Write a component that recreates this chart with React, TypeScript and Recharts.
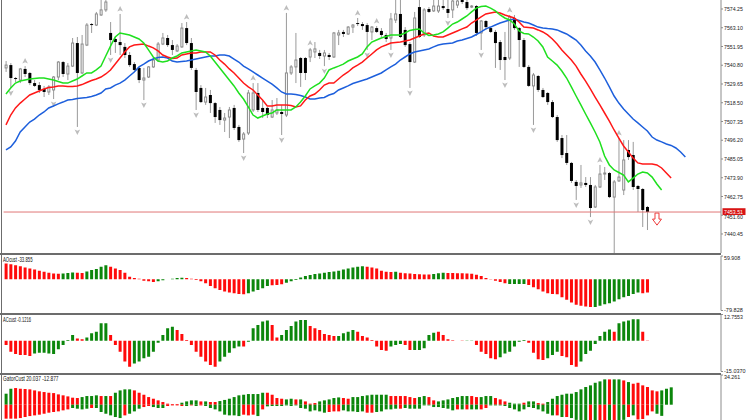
import React from "react";
import { Bar, Cell, ComposedChart, Line, ReferenceLine, XAxis, YAxis } from "recharts";

// price bars, oldest first (136 bars)
const opens = [
  7539.2, 7540.9, 7533.2, 7532.0, 7538.6, 7536.2, 7530.2, 7529.0, 7526.7, 7524.9,
  7526.1, 7533.8, 7542.7, 7535.6, 7540.3, 7554.0, 7536.2, 7552.8, 7565.3, 7564.7,
  7570.7, 7573.7, 7560.0, 7556.4, 7554.6, 7551.7, 7546.9, 7541.5, 7539.2, 7532.0,
  7533.8, 7539.8, 7543.9, 7553.4, 7557.0, 7552.8, 7549.3, 7551.7, 7562.9, 7554.0,
  7538.0, 7527.3, 7518.9, 7523.1, 7518.3, 7514.2, 7508.2, 7510.0, 7515.4, 7504.1,
  7496.9, 7500.5, 7514.2, 7524.3, 7515.4, 7515.4, 7510.0, 7512.4, 7513.0, 7511.2,
  7536.2, 7539.8, 7545.1, 7545.1, 7545.7, 7548.7, 7548.1, 7546.3, 7546.9, 7545.7,
  7558.8, 7560.6, 7559.4, 7563.5, 7565.9, 7565.3, 7564.7, 7560.6, 7562.9, 7561.2,
  7558.8, 7557.0, 7567.7, 7571.3, 7561.8, 7553.4, 7542.7, 7575.4, 7558.8, 7574.25,
  7573.1, 7573.1, 7576.0, 7574.25, 7573.7, 7576.6, 7579.6, 7578.4, 7575.4, 7576.0,
  7560.0, 7567.1, 7562.9, 7560.6, 7554.6, 7545.7, 7545.1, 7568.9, 7562.9, 7555.8,
  7539.8, 7528.5, 7534.4, 7526.1, 7524.3, 7518.9, 7510.0, 7497.5, 7488.6, 7482.7,
  7471.4, 7469.6, 7470.8, 7469.6, 7456.5, 7468.4, 7476.1, 7476.7, 7462.4, 7472.0,
  7466.6, 7490.4, 7487.4, 7469.0, 7467.2, 7456.5,
];
const closes = [
  7540.9, 7533.2, 7532.6, 7538.6, 7535.6, 7530.2, 7528.5, 7526.1, 7524.9, 7527.9,
  7533.8, 7542.7, 7535.6, 7540.3, 7554.0, 7536.2, 7553.4, 7564.7, 7564.7, 7571.3,
  7573.7, 7578.4, 7555.8, 7554.6, 7552.8, 7546.9, 7540.9, 7538.0, 7532.0, 7533.2,
  7539.8, 7543.9, 7553.4, 7557.0, 7552.8, 7549.9, 7552.2, 7562.9, 7554.0, 7539.2,
  7524.9, 7518.9, 7521.9, 7518.3, 7510.0, 7508.2, 7509.4, 7514.2, 7503.5, 7496.3,
  7499.9, 7524.3, 7524.3, 7514.2, 7513.0, 7511.2, 7514.2, 7514.2, 7511.8, 7536.2,
  7539.8, 7543.9, 7536.2, 7536.2, 7549.9, 7550.5, 7546.3, 7548.1, 7545.7, 7560.0,
  7560.0, 7559.4, 7563.5, 7564.7, 7565.3, 7564.1, 7560.6, 7563.5, 7560.6, 7558.8,
  7556.4, 7568.3, 7571.3, 7557.6, 7552.8, 7542.7, 7568.9, 7557.6, 7573.7, 7572.5,
  7576.0, 7576.0, 7574.8, 7571.9, 7579.0, 7579.0, 7578.4, 7574.8, 7576.0, 7560.0,
  7567.1, 7563.5, 7560.6, 7554.0, 7543.9, 7543.9, 7569.5, 7562.9, 7555.8, 7539.8,
  7528.5, 7535.0, 7526.1, 7521.9, 7518.9, 7510.0, 7496.3, 7487.4, 7482.7, 7472.0,
  7469.0, 7470.8, 7469.6, 7455.9, 7468.4, 7476.1, 7476.7, 7462.4, 7471.4, 7474.3,
  7484.45, 7486.2, 7468.4, 7467.2, 7454.7, 7453.51,
];
const highs = [
  7543.3, 7542.1, 7533.8, 7539.2, 7540.3, 7536.8, 7532.0, 7530.8, 7528.5, 7529.0,
  7534.4, 7543.3, 7543.3, 7542.1, 7557.0, 7557.6, 7558.8, 7565.9, 7565.9, 7572.5,
  7580.5, 7581.0, 7566.5, 7557.6, 7571.3, 7554.0, 7548.7, 7542.7, 7539.8, 7539.2,
  7540.3, 7545.7, 7554.6, 7560.0, 7558.8, 7555.8, 7553.4, 7565.9, 7566.5, 7557.0,
  7539.2, 7529.0, 7527.3, 7526.1, 7518.9, 7516.0, 7512.4, 7516.0, 7517.2, 7505.3,
  7501.1, 7526.1, 7530.2, 7530.2, 7520.1, 7516.0, 7520.1, 7521.3, 7517.2, 7571.9,
  7540.9, 7560.0, 7545.7, 7545.7, 7551.1, 7554.6, 7549.9, 7549.9, 7548.1, 7560.6,
  7561.8, 7561.8, 7564.1, 7565.3, 7568.9, 7566.5, 7565.9, 7564.1, 7564.1, 7562.9,
  7560.0, 7571.9, 7580.5, 7580.5, 7563.5, 7554.6, 7572.5, 7580.5, 7574.8, 7575.4,
  7580.5, 7580.5, 7580.5, 7580.5, 7580.5, 7581.0, 7581.0, 7581.0, 7576.6, 7576.6,
  7567.7, 7567.7, 7563.5, 7561.8, 7555.8, 7560.6, 7570.7, 7570.7, 7563.5, 7557.0,
  7540.9, 7536.2, 7535.0, 7527.3, 7524.9, 7520.1, 7511.2, 7499.3, 7499.3, 7483.3,
  7472.55, 7481.5, 7474.3, 7474.3, 7469.6, 7481.5, 7480.3, 7477.3, 7472.55, 7497.5,
  7496.3, 7496.3, 7495.2, 7469.6, 7467.8, 7457.1,
];
const lows = [
  7536.8, 7527.3, 7530.8, 7530.2, 7533.8, 7529.0, 7527.9, 7524.3, 7521.9, 7523.1,
  7520.7, 7532.0, 7533.8, 7532.0, 7539.8, 7504.1, 7535.6, 7552.2, 7560.0, 7564.1,
  7570.1, 7572.5, 7546.9, 7548.1, 7546.9, 7545.1, 7539.8, 7536.8, 7530.2, 7520.1,
  7533.2, 7539.2, 7542.7, 7552.8, 7551.7, 7546.9, 7548.7, 7551.1, 7552.8, 7538.0,
  7514.2, 7518.3, 7517.2, 7512.4, 7506.5, 7505.3, 7501.1, 7497.5, 7502.3, 7495.2,
  7488.6, 7499.3, 7513.0, 7513.0, 7509.4, 7509.4, 7509.4, 7511.2, 7499.3, 7510.0,
  7535.0, 7530.2, 7527.9, 7532.0, 7542.7, 7545.1, 7544.5, 7540.3, 7543.9, 7545.1,
  7552.8, 7557.6, 7558.8, 7560.0, 7564.1, 7561.8, 7549.9, 7555.8, 7560.0, 7557.6,
  7554.6, 7549.9, 7565.9, 7557.0, 7551.7, 7527.3, 7542.1, 7557.0, 7557.6, 7571.9,
  7572.5, 7571.9, 7573.7, 7568.9, 7568.9, 7574.8, 7577.2, 7573.7, 7574.8, 7558.2,
  7549.9, 7561.8, 7560.0, 7539.2, 7538.0, 7532.0, 7543.9, 7561.8, 7539.8, 7539.2,
  7527.9, 7505.3, 7524.9, 7521.3, 7517.2, 7509.4, 7495.2, 7485.6, 7481.5, 7470.8,
  7460.7, 7467.8, 7468.4, 7450.5, 7455.9, 7467.8, 7472.55, 7461.8, 7429.1, 7471.4,
  7463.6, 7484.45, 7466.6, 7453.5, 7444.6, 7442.8,
];

// alligator lines, already shifted forward (jaw 8, teeth 5, lips 3 bars)
const jaw = [
  7490.4, 7492.2, 7495.7, 7501.1, 7504.1, 7507.0, 7508.8, 7511.2, 7513.0, 7515.4,
  7516.6, 7517.8, 7518.9, 7520.1, 7520.4, 7521.0, 7521.3, 7521.6, 7522.2, 7523.1,
  7524.3, 7526.7, 7527.3, 7529.0, 7530.2, 7532.0, 7534.4, 7536.8, 7539.8, 7541.5,
  7543.3, 7544.5, 7545.4, 7545.7, 7545.1, 7543.3, 7542.7, 7543.0, 7543.3, 7543.9,
  7544.5, 7545.1, 7545.7, 7546.3, 7546.3, 7546.9, 7546.9, 7546.3, 7544.5, 7542.7,
  7540.3, 7538.6, 7536.8, 7535.0, 7533.2, 7531.4, 7529.6, 7527.3, 7524.9, 7523.7,
  7523.7, 7523.4, 7522.8, 7521.9, 7520.7, 7520.7, 7521.3, 7521.6, 7523.1, 7524.0,
  7526.1, 7527.3, 7528.5, 7529.9, 7530.8, 7531.7, 7532.6, 7533.8, 7535.0, 7536.2,
  7538.0, 7539.8, 7541.5, 7543.9, 7545.7, 7547.5, 7548.7, 7549.3, 7549.9, 7550.5,
  7551.7, 7552.8, 7553.4, 7553.7, 7554.0, 7555.2, 7555.8, 7556.7, 7557.6, 7559.1,
  7560.6, 7562.4, 7563.5, 7564.7, 7565.9, 7566.8, 7567.7, 7568.3, 7567.4, 7566.5,
  7565.9, 7564.7, 7563.5, 7562.9, 7562.6, 7562.4, 7561.8, 7560.6, 7559.4, 7557.6,
  7555.8, 7552.8, 7549.3, 7546.3, 7542.7, 7538.0, 7533.2, 7527.9, 7522.5, 7518.3,
  7514.8, 7511.8, 7508.8, 7506.5, 7504.1, 7501.7, 7498.1, 7496.3, 7495.2, 7494.0,
  7493.1, 7491.6, 7489.2, 7486.2,
];
const teeth = [
  7505.3, 7511.2, 7515.4, 7518.3, 7520.7, 7523.1, 7524.3, 7525.5, 7526.7, 7527.6,
  7527.9, 7528.5, 7528.5, 7528.2, 7528.2, 7528.5, 7529.3, 7530.5, 7531.7, 7532.6,
  7533.8, 7535.6, 7538.0, 7541.5, 7545.1, 7548.7, 7551.7, 7552.8, 7553.1, 7553.4,
  7552.2, 7551.1, 7549.3, 7546.9, 7545.7, 7544.8, 7545.1, 7546.9, 7547.5, 7548.1,
  7548.1, 7548.7, 7548.7, 7548.7, 7546.9, 7543.9, 7541.5, 7538.6, 7536.2, 7533.2,
  7530.2, 7527.9, 7526.1, 7523.1, 7520.1, 7516.6, 7516.6, 7517.2, 7517.2, 7517.2,
  7516.9, 7516.0, 7516.6, 7520.1, 7522.5, 7523.7, 7526.1, 7529.0, 7530.2, 7530.2,
  7532.6, 7535.0, 7536.8, 7539.2, 7540.9, 7542.7, 7545.1, 7547.5, 7549.9, 7551.7,
  7552.8, 7554.0, 7554.3, 7554.6, 7555.2, 7555.8, 7557.0, 7558.2, 7559.4, 7560.0,
  7558.2, 7557.6, 7557.6, 7558.8, 7560.0, 7561.2, 7562.4, 7563.5, 7565.9, 7567.7,
  7569.5, 7571.3, 7571.9, 7572.5, 7571.9, 7570.7, 7569.8, 7568.9, 7566.5, 7563.5,
  7563.2, 7562.9, 7561.8, 7560.6, 7558.8, 7556.4, 7553.4, 7549.9, 7546.9, 7543.9,
  7540.3, 7535.6, 7531.4, 7526.7, 7521.9, 7517.2, 7512.4, 7507.6, 7502.3, 7497.5,
  7492.8, 7489.2, 7485.6, 7482.7, 7482.1, 7482.1, 7482.1, 7481.5, 7479.7, 7476.7,
  7473.7,
];
const lips = [
  7523.7, 7527.3, 7530.2, 7531.4, 7532.0, 7532.6, 7532.9, 7533.2, 7533.2, 7532.6,
  7532.0, 7531.1, 7530.2, 7530.2, 7531.4, 7532.6, 7534.4, 7536.2, 7536.2, 7538.0,
  7540.3, 7546.3, 7552.2, 7557.6, 7560.0, 7559.4, 7558.8, 7557.6, 7556.4, 7554.0,
  7549.9, 7545.7, 7543.3, 7542.7, 7543.3, 7545.1, 7546.3, 7548.1, 7548.7, 7549.3,
  7549.9, 7549.3, 7548.7, 7546.3, 7542.7, 7539.2, 7535.6, 7532.0, 7528.5, 7524.3,
  7520.7, 7516.0, 7511.2, 7509.4, 7510.6, 7511.8, 7512.4, 7514.2, 7514.2, 7514.2,
  7514.2, 7516.0, 7518.9, 7522.5, 7526.7, 7528.5, 7530.2, 7533.2, 7538.0, 7539.2,
  7540.3, 7541.5, 7543.3, 7544.5, 7545.7, 7547.5, 7551.7, 7554.6, 7555.8, 7557.0,
  7557.9, 7558.8, 7558.8, 7558.8, 7560.0, 7561.5, 7562.1, 7562.4, 7560.0, 7558.5,
  7558.8, 7559.4, 7560.6, 7562.9, 7565.3, 7566.5, 7568.3, 7570.1, 7572.5, 7574.8,
  7575.7, 7576.0, 7574.8, 7573.1, 7570.7, 7568.9, 7567.7, 7565.3, 7561.2, 7559.7,
  7559.4, 7557.6, 7555.2, 7551.7, 7545.7, 7543.3, 7540.9, 7537.4, 7533.2, 7527.9,
  7522.5, 7517.2, 7511.8, 7506.5, 7501.1, 7495.2, 7486.8, 7481.5, 7478.5, 7477.0,
  7475.5, 7471.4, 7473.7, 7476.1, 7477.3, 7476.7, 7474.3, 7470.2, 7466.6,
];

const fractalUp = [4, 24, 38, 52, 59, 64, 74, 78, 87, 106, 125, 129];
const fractalDown = [1, 10, 15, 22, 29, 40, 50, 58, 67, 76, 81, 85, 93, 100, 105, 111, 120, 123, 128];

const priceTicks = [
  7574.25, 7563.1, 7551.95, 7540.8, 7529.65, 7518.5, 7507.35,
  7496.2, 7485.05, 7473.9, 7462.75, 7451.6, 7440.45,
];
const lastPrice = 7453.51;
const signalBar = 137;
const signalRange = [7445.7, 7452.9];

const aoValues = [
  40.7, 39.0, 36.4, 33.9, 30.5, 28.0, 25.4, 22.0, 19.5, 16.9,
  15.2, 14.4, 15.2, 16.1, 17.5, 17.0, 16.6, 20.3, 23.7, 26.3,
  32.2, 36.4, 32.2, 28.0, 23.7, 16.9, 6.8, 3.4, 1.7, -3.4,
  -5.1, -6.8, -5.1, -2.5, 0.3, 1.7, 3.4, 4.2, 3.4, 1.7,
  -1.7, -5.1, -10.2, -16.9, -22.9, -27.1, -31.3, -33.9, -35.6, -37.3,
  -38.1, -35.6, -31.3, -27.1, -22.9, -16.9, -15.2, -14.4, -12.7, -8.5,
  -5.1, -1.7, 5.1, 8.5, 11.0, 13.6, 15.2, 16.9, 18.6, 20.3,
  22.0, 25.4, 28.0, 30.5, 32.2, 33.9, 32.2, 30.5, 28.0, 22.0,
  19.5, 19.0, 19.5, 16.9, 15.7, 14.8, 14.0, 13.2, 12.7, 12.3,
  14.0, 15.7, 17.0, 16.5, 16.2, 15.8, 15.4, 15.0, 14.6, 11.9,
  8.5, 3.4, 0.8, -3.4, -6.8, -10.2, -11.9, -11.9, -11.9, -11.9,
  -14.4, -20.3, -25.4, -31.3, -35.6, -37.3, -38.1, -45.7, -52.5, -59.3,
  -65.2, -67.8, -69.5, -71.1, -71.1, -67.8, -63.5, -61.0, -56.7, -50.8,
  -45.7, -42.4, -37.3, -33.9, -35.6, -33.855,
];
const aoColors = [
  "RRRRRRRRRR", "RRGGGRRGGG", "GGRRRRRRRR", "RRGGGGGGRR", "RRRRRRRRRR",
  "RGGGGGRRRG", "GGGGGGGGGG", "GGGGGGRRRR", "RRGRRRRRRR", "GGGRRRRRRR",
  "RRRRRRGGGG", "RRRRRRRRRR", "RRRRGGGGGG", "GGGGRR",
].join("");

const acValues = [
  -2.1, -5.4, -6.5, -7.0, -7.0, -7.5, -6.2, -5.9, -5.9, -6.2,
  -6.5, -4.2, -2.1, 0.3, 2.8, 1.1, 0.7, 1.6, 3.6, 4.4,
  8.5, 8.5, 2.8, -2.1, -5.4, -10.2, -12.7, -11.1, -10.2, -8.6,
  -7.8, -5.4, -1.0, 2.8, 6.0, 6.8, 5.2, 3.3, 0.3, -2.1,
  -5.4, -7.8, -10.2, -11.9, -12.7, -10.2, -7.8, -5.9, -3.7, -2.9,
  -2.9, -0.5, 6.0, 7.6, 9.3, 9.8, 7.6, 1.6, 2.8, 5.2,
  7.2, 9.3, 10.1, 10.1, 7.2, 6.0, 5.2, 3.3, 2.8, 2.3,
  2.3, 3.6, 4.4, 5.2, 4.4, 2.3, 1.6, 0.3, -2.9, -4.6,
  -4.9, -2.9, -2.1, -1.6, -2.1, -4.6, -4.6, -4.6, -3.7, 2.8,
  3.9, 4.4, 2.8, 0.7, 0.2, -0.1, -0.2, 0.1, 0.1, -2.1,
  -5.4, -6.5, -8.6, -9.1, -8.1, -6.2, -5.4, -2.9, -0.5, 0.3,
  -1.0, -5.9, -9.1, -9.4, -8.6, -7.0, -5.4, -7.5, -8.1, -11.9,
  -12.7, -10.2, -6.5, -4.9, -1.6, 2.3, 4.4, 5.5, 4.4, 8.5,
  9.3, 9.8, 10.4, 10.4, 4.4, -0.1216,
];
const acColors = [
  "RRRRRRGGGG", "GGGGGRRGGG", "GGRRRRRGGG", "GGGGGGRRRR", "RRRRRGGGGG",
  "RGGGGGRRGG", "GGGGRRRRRR", "GGGGRRRRRR", "RGGGRRGGGG", "GRRRRRRGGR",
  "RRRRGGGGGG", "RRRRGGGRRR", "RGGGGGGGRG", "GGGGRR",
].join("");

const gatorUpper = [
  12.7, 18.4, 19.2, 18.4, 18.1, 17.7, 16.5, 15.4, 14.6, 13.8,
  13.4, 11.9, 10.8, 9.6, 8.1, 7.7, 8.8, 10.0, 10.0, 10.8,
  10.0, 10.0, 10.0, 13.8, 16.5, 17.7, 17.7, 16.5, 13.8, 11.5,
  8.8, 6.9, 5.0, 3.1, 1.2, 0.8, 0.8, 2.3, 3.8, 5.0,
  5.0, 3.8, 3.8, 3.1, 3.1, 4.2, 5.5, 6.9, 8.8, 10.8,
  11.5, 12.3, 12.3, 12.3, 13.8, 13.8, 11.5, 7.7, 6.9, 6.1,
  6.9, 6.1, 6.1, 3.8, 1.2, 1.9, 3.8, 5.0, 6.1, 7.7,
  8.4, 7.7, 6.9, 8.8, 8.8, 10.0, 10.8, 11.5, 11.5, 11.5,
  11.5, 10.0, 10.0, 10.0, 10.0, 8.8, 7.7, 8.8, 10.0, 8.8,
  5.0, 3.8, 5.0, 6.1, 7.7, 8.8, 10.0, 10.0, 10.0, 8.8,
  8.8, 10.0, 10.0, 7.7, 6.1, 3.8, 2.3, 1.2, 1.2, 2.3,
  3.8, 3.8, 1.9, 1.2, 3.1, 6.9, 10.0, 11.5, 12.7, 12.7,
  14.6, 17.7, 20.4, 22.3, 25.3, 26.9, 29.2, 29.2, 29.2, 29.2,
  28.0, 26.1, 24.2, 25.3, 22.3, 20.4, 16.5, 15.4, 16.5, 18.4,
  20.037,
];
const gatorUpperColors = [
  "GGRRRRRRRR", "RRRRRRGGGG", "RGRGGGGRRR", "RRRRRRRGGG", "GRGRRGGGGG",
  "GGGGGRRRRG", "GRGRRRGGGG", "GRRGGGGGGG", "GRRRRRRGGR", "RGGGGGGGRR",
  "GGGRRRGGGR", "GGRRGGGGGG", "GGGGGGGRGG", "RGRRRRRRGG", "G",
].join("");
const gatorLower = [
  -16.1, -16.1, -16.1, -15.4, -14.2, -13.1, -12.3, -11.5, -10.4, -9.2,
  -8.4, -7.7, -6.5, -5.4, -3.8, -4.6, -5.4, -4.6, -3.8, -3.8,
  -8.4, -10.4, -12.3, -14.2, -15.4, -12.3, -10.4, -7.7, -4.6, -2.7,
  -1.5, -2.7, -3.8, -3.8, -1.5, -0.8, -0.8, -1.5, -1.5, -0.8,
  -1.5, -0.8, -1.5, -3.8, -5.4, -7.7, -11.5, -12.3, -12.3, -13.1,
  -11.5, -12.3, -11.5, -13.1, -5.4, -1.9, -1.5, -1.5, -1.5, -0.8,
  -1.5, -0.8, -3.8, -4.6, -7.7, -6.5, -7.7, -9.2, -8.4, -7.7,
  -7.7, -6.5, -7.7, -7.7, -8.4, -7.7, -9.2, -9.2, -8.4, -7.7,
  -5.4, -5.4, -4.6, -4.6, -3.8, -4.6, -4.6, -4.6, -0.8, -0.8,
  -2.7, -2.7, -3.8, -4.6, -6.5, -5.4, -5.4, -5.4, -5.4, -5.4,
  -5.4, -3.8, -0.8, -0.8, -0.8, -1.5, -3.8, -5.4, -7.7, -5.4,
  -2.7, -3.8, -5.4, -7.7, -10.4, -12.3, -12.3, -14.2, -14.2, -15.4,
  -17.5, -18.5, -19.0, -19.0, -19.0, -19.0, -19.0, -19.0, -18.5, -18.0,
  -17.5, -14.2, -12.3, -17.0, -16.5, -12.3, -7.7, -10.4, -12.877,
];
const gatorLowerColors = [
  "RRRRRRRRRR", "RRRRGGGGRG", "GGGGGRGGGR", "RGGGRRRRGR", "GRGGGGGGGG",
  "RRRGRGGGGG", "GGGGGGGGRR", "RGGGGGRRGG", "GGGRGGGGGG", "GGGGGRGRGG",
  "RRGGGGGGGG", "GGGGGGRGRG", "GGGRGRRGRG", "GRGRRRRGG",
].join("");

const SLOTS = 151;
const WIDTH = 752;
const LEFT = 3.6;
const AXIS_W = 31;
const GREEN = "#0b860b";
const RED = "#ff0a0a";
const FONT = "'Liberation Sans', Arial, sans-serif";

const pick = (c: string) => (c === "G" ? GREEN : RED);

const rows = Array.from({ length: SLOTS }, (_, i) => {
  const isCandle = i < opens.length;
  const hasGator = i < gatorUpper.length;
  return {
    i,
    open: isCandle ? opens[i] : null,
    close: isCandle ? closes[i] : null,
    high: isCandle ? highs[i] : null,
    low: isCandle ? lows[i] : null,
    range: isCandle ? [lows[i], highs[i]] : i === signalBar ? signalRange : null,
    signal: i === signalBar,
    fUp: fractalUp.includes(i),
    fDown: fractalDown.includes(i),
    jaw: i < jaw.length ? jaw[i] : null,
    teeth: i < teeth.length ? teeth[i] : null,
    lips: i < lips.length ? lips[i] : null,
    ao: i < aoValues.length ? aoValues[i] : null,
    aoColor: pick(aoColors[i]),
    ac: i < acValues.length ? acValues[i] : null,
    acColor: pick(acColors[i]),
    gator: hasGator ? [i < gatorLower.length ? gatorLower[i] : 0, gatorUpper[i]] : null,
    gUpColor: pick(gatorUpperColors[i]),
    gLoColor: pick(gatorLowerColors[i]),
  };
});

function CandleShape(props: any) {
  const { x, y, width, height, payload } = props;
  if (!payload || payload.range == null || !Number.isFinite(y)) return <g />;
  const cx = x + width / 2;
  const top = Math.min(y, y + height);
  const h = Math.abs(height);

  if (payload.signal) {
    const mid = top + h * 0.5;
    const d = `M${cx - 2},${top} L${cx + 2},${top} L${cx + 2},${mid} L${cx + 4.5},${mid} L${cx},${top + h} L${cx - 4.5},${mid} L${cx - 2},${mid} Z`;
    return <path d={d} fill="#ffffff" stroke="#ee3b3b" strokeWidth={1} />;
  }

  const ppu = h / (payload.high - payload.low);
  const yOf = (v: number) => top + (payload.high - v) * ppu;
  const bodyTop = yOf(Math.max(payload.open, payload.close));
  const bodyBot = yOf(Math.min(payload.open, payload.close));
  const bull = payload.close >= payload.open;
  const bodyH = Math.max(bodyBot - bodyTop, 1);

  return (
    <g>
      <line x1={cx} x2={cx} y1={top} y2={top + h} stroke="#9a9a9a" strokeWidth={1} />
      {bull ? (
        <rect x={cx - 1} y={bodyTop} width={2} height={bodyH} fill="#ffffff" stroke="#8a8a8a" strokeWidth={1} />
      ) : (
        <rect x={cx - 1.5} y={bodyTop} width={3} height={bodyH} fill="#000000" />
      )}
      {payload.fUp && (
        <path
          d={`M${cx},${top - 8} L${cx + 2.8},${top - 2.5} L${cx},${top - 3.8} L${cx - 2.8},${top - 2.5} Z`}
          fill="#bdbdbd"
        />
      )}
      {payload.fDown && (
        <path
          d={`M${cx},${top + h + 8} L${cx + 2.8},${top + h + 2.5} L${cx},${top + h + 3.8} L${cx - 2.8},${top + h + 2.5} Z`}
          fill="#bdbdbd"
        />
      )}
    </g>
  );
}

function GatorShape(props: any) {
  const { x, y, width, height, payload } = props;
  if (!payload || payload.gator == null || !Number.isFinite(y)) return <g />;
  const [lo, up] = payload.gator;
  const top = Math.min(y, y + height);
  const h = Math.abs(height);
  const ppu = h / (up - lo);
  const zeroY = top + up * ppu;
  return (
    <g>
      {up > 0 && <rect x={x} y={top} width={width} height={zeroY - top} fill={payload.gUpColor} />}
      {lo < 0 && <rect x={x} y={zeroY} width={width} height={top + h - zeroY} fill={payload.gLoColor} />}
    </g>
  );
}

function AxisText({ x, y, label, dy }: { x: number; y: number; label: string; dy: number }) {
  return (
    <text
      x={x}
      y={y + dy}
      fontSize={6}
      fontFamily={FONT}
      fill="#222"
      textLength={label.length * 2.7}
      lengthAdjust="spacingAndGlyphs"
    >
      {label}
    </text>
  );
}

function PriceTick(props: any) {
  const { x, y, payload } = props;
  const v = Number(payload.value);
  // the tick right under the current-price tag sits a touch lower, as in the terminal
  const dy = Math.abs(v - lastPrice) < 3 ? 3.4 : 2.2;
  return <AxisText x={x - 1} y={y} dy={dy} label={v.toFixed(2)} />;
}

function makeSubTick(decimals: number) {
  return function SubTick(props: any) {
    const { x, y, payload } = props;
    const v = Number(payload.value);
    return <AxisText x={x - 1} y={y} dy={v > 0 ? 4.2 : 1} label={v.toFixed(decimals)} />;
  };
}

function PriceTag(props: any) {
  const vb = props.viewBox;
  if (!vb) return null;
  const bx = vb.x + vb.width + 1.5;
  return (
    <g>
      <rect x={bx} y={vb.y - 3.8} width={23} height={6.8} fill="#d81414" />
      <text
        x={bx + 1.5}
        y={vb.y + 1.7}
        fontSize={5.8}
        fontFamily={FONT}
        fill="#ffffff"
        textLength={19}
        lengthAdjust="spacingAndGlyphs"
      >
        {lastPrice.toFixed(2)}
      </text>
    </g>
  );
}

const axisStroke = { stroke: "#8c8c8c", strokeWidth: 1 };

function SubPanel({ top, height, margin, domain, ticks, decimals, children }: any) {
  return (
    <div style={{ position: "absolute", left: 0, top }}>
      <ComposedChart width={WIDTH} height={height} data={rows} margin={{ left: LEFT, right: 0, ...margin }}>
        <XAxis dataKey="i" hide />
        <YAxis
          orientation="right"
          width={AXIS_W}
          domain={domain}
          ticks={ticks}
          interval={0}
          allowDataOverflow
          axisLine={axisStroke}
          tickLine={axisStroke}
          tickSize={2}
          tick={makeSubTick(decimals)}
        />
        {children}
      </ComposedChart>
    </div>
  );
}

export default function App() {
  return (
    <div style={{ position: "relative", width: WIDTH, height: 420, background: "#fff", overflow: "hidden", fontFamily: FONT }}>
      <style>{"body{margin:0}"}</style>

      <div style={{ position: "absolute", left: 0, top: 0 }}>
        <ComposedChart width={WIDTH} height={254} data={rows} margin={{ top: 0, right: 0, bottom: 1, left: LEFT }}>
          <XAxis dataKey="i" hide />
          <YAxis
            orientation="right"
            width={AXIS_W}
            domain={[7429.14, 7579.6]}
            ticks={priceTicks}
            interval={0}
            allowDataOverflow
            axisLine={axisStroke}
            tickLine={axisStroke}
            tickSize={2}
            tick={PriceTick}
          />
          <ReferenceLine y={lastPrice} stroke="#e07777" strokeWidth={1} label={<PriceTag />} />
          <Bar dataKey="range" barSize={3} shape={(p: any) => <CandleShape {...p} />} isAnimationActive={false} />
          <Line dataKey="jaw" stroke="#1d5fdc" strokeWidth={1.5} dot={false} type="linear" isAnimationActive={false} />
          <Line dataKey="teeth" stroke="#ff1818" strokeWidth={1.5} dot={false} type="linear" isAnimationActive={false} />
          <Line dataKey="lips" stroke="#1fe01f" strokeWidth={1.5} dot={false} type="linear" isAnimationActive={false} />
        </ComposedChart>
      </div>

      <SubPanel top={254} height={60} margin={{ top: 2, bottom: 3.5 }} domain={[-79.828, 59.908]} ticks={[59.908, -79.828]} decimals={3}>
        <Bar dataKey="ao" barSize={3} isAnimationActive={false}>
          {rows.map((r) => (
            <Cell key={r.i} fill={r.aoColor} />
          ))}
        </Bar>
      </SubPanel>

      <SubPanel top={312} height={62} margin={{ top: 2.5, bottom: 2.5 }} domain={[-15.037, 12.7553]} ticks={[12.7553, -15.037]} decimals={4}>
        <Bar dataKey="ac" barSize={3} isAnimationActive={false}>
          {rows.map((r) => (
            <Cell key={r.i} fill={r.acColor} />
          ))}
        </Bar>
      </SubPanel>

      <SubPanel top={373} height={47} margin={{ top: 2, bottom: 0 }} domain={[-17.64, 34.261]} ticks={[34.261]} decimals={3}>
        <Bar dataKey="gator" barSize={3} shape={(p: any) => <GatorShape {...p} />} isAnimationActive={false} />
      </SubPanel>

      <svg width={WIDTH} height={420} style={{ position: "absolute", left: 0, top: 0, pointerEvents: "none" }}>
        <rect x={0} y={253} width={721} height={2} fill="#6c6c6c" />
        <rect x={0} y={313} width={721} height={2} fill="#6c6c6c" />
        <rect x={0} y={373} width={721} height={2} fill="#6c6c6c" />
        <rect x={1} y={0} width={1} height={420} fill="#6c6c6c" />
        <text x={3} y={261.5} fontSize={6.4} fontFamily={FONT} fill="#111" textLength={29.5} lengthAdjust="spacingAndGlyphs">
          AOcust -33.855
        </text>
        <text x={3} y={321.5} fontSize={6.4} fontFamily={FONT} fill="#111" textLength={28} lengthAdjust="spacingAndGlyphs">
          ACcust -0.1216
        </text>
        <text x={3} y={381.2} fontSize={6.4} fontFamily={FONT} fill="#111" textLength={55.5} lengthAdjust="spacingAndGlyphs">
          GatorCust 20.037 -12.877
        </text>
      </svg>
    </div>
  );
}
